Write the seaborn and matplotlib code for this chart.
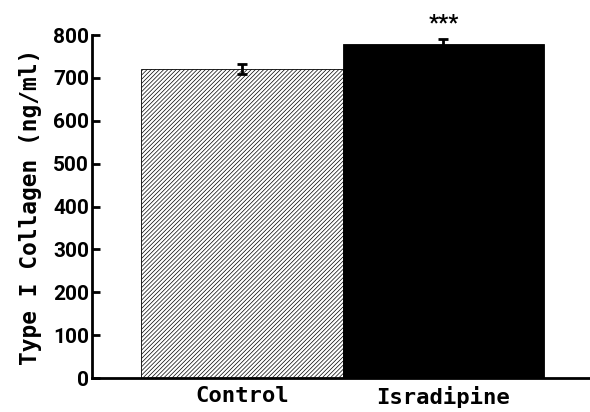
import pandas as pd
import matplotlib
matplotlib.use("Agg")
import matplotlib.pyplot as plt
import seaborn as sns

groups = ["Control", "Isradipine"]
collagen = [721, 779]
sem = [12, 11]
bar_colors = ["white", "black"]

df = pd.DataFrame({"group": groups, "collagen": collagen})

sns.set_style("ticks")
plt.rcParams["font.family"] = ["Roboto", "DejaVu Sans"]
plt.rcParams["hatch.linewidth"] = 0.5
for k in ["text.color", "axes.labelcolor", "xtick.color", "ytick.color", "axes.edgecolor"]:
    plt.rcParams[k] = "black"

fig = plt.figure(figsize=(5.9, 4.12), dpi=100)
ax = fig.add_axes([0.156, 0.0825, 0.844, 0.8325])

sns.barplot(data=df, x="group", y="collagen", hue="group", palette=bar_colors,
            width=1.0, edgecolor="black", linewidth=0.6, legend=False, ax=ax)
ax.patches[0].set_hatch("////////")

ax.errorbar(range(len(groups)), collagen, yerr=sem, fmt="none", ecolor="black",
            elinewidth=2, capsize=3.5, capthick=2)
ax.text(1, collagen[1] + sem[1] + 12, "***", ha="center", va="bottom",
        fontsize=16, fontweight="bold")

ax.set_ylim(0, 800)
ax.set_xlim(-0.744, 1.727)
ax.set_yticks(range(0, 801, 100))
ax.tick_params(axis="y", direction="in", length=6, width=2, labelsize=15, pad=2)
ax.tick_params(axis="x", length=0, labelsize=16, pad=6)
for lab in ax.get_yticklabels():
    lab.set_fontweight("bold")
for lab in ax.get_xticklabels():
    lab.set_fontweight("bold")
    lab.set_family(["DejaVu Sans Mono"])

ax.set_xlabel("")
ax.set_ylabel("Type I Collagen (ng/ml)", fontsize=16.5, fontweight="bold",
              family=["DejaVu Sans Mono"], labelpad=8)
sns.despine(ax=ax, top=True, right=True)
ax.spines["left"].set_linewidth(2)
ax.spines["bottom"].set_linewidth(2)

fig.savefig("out.png", dpi=100)
